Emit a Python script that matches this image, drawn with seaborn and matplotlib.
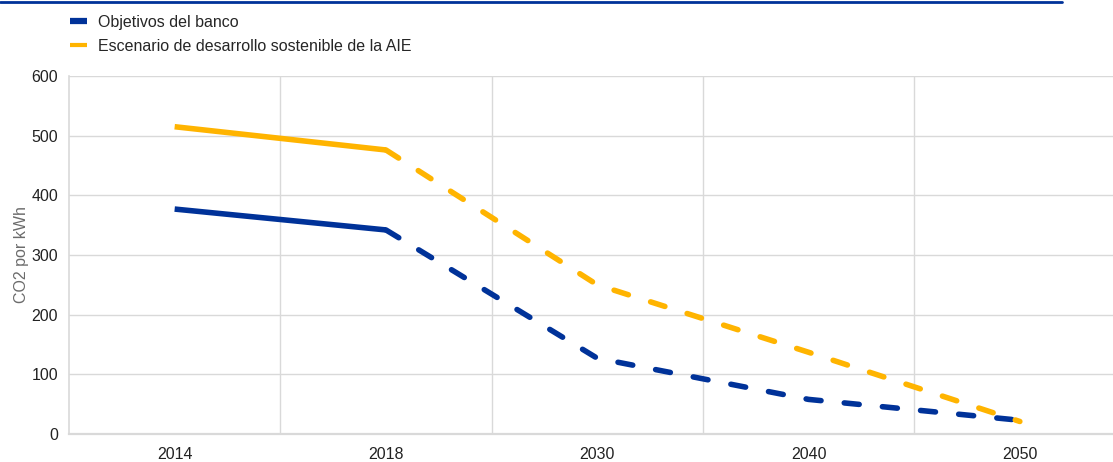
import matplotlib
matplotlib.use("Agg")
import matplotlib.pyplot as plt
from matplotlib.lines import Line2D
import seaborn as sns
import pandas as pd
import numpy as np

# ---- data ----
years = ["2014", "2018", "2030", "2040", "2050"]
bank_targets = [377, 342, 127, 58, 23]
iea_sds = [515, 476, 250, 137, 21]
series_names = ["Objetivos del banco", "Escenario de desarrollo sostenible de la AIE"]
y_ticks = [0, 100, 200, 300, 400, 500, 600]
y_label = "CO2 por kWh"

BLUE = "#003299"
YELLOW = "#FFB400"
GRID = "#d9d9d9"
FS = 11.5

sns.set_theme(style="white")
plt.rcParams["font.family"] = ["Liberation Sans", "DejaVu Sans"]

fig = plt.figure(figsize=(11.13, 4.62), dpi=100)
W, H = 1113, 462
left, right, top, bottom = 69, 1125.5, 76, 434
ax = fig.add_axes([left / W, 1 - bottom / H, (right - left) / W, (bottom - top) / H])

pos = np.arange(len(years))
df = pd.DataFrame({"pos": pos, "year": years, "bank": bank_targets, "iea": iea_sds})
hist = df.iloc[0:2]
proj = df.iloc[1:]

lw = 4.0
for col, color in (("bank", BLUE), ("iea", YELLOW)):
    sns.lineplot(data=hist, x="pos", y=col, ax=ax, color=color, lw=lw,
                 solid_capstyle="butt", solid_joinstyle="round", zorder=3)
    l = sns.lineplot(data=proj, x="pos", y=col, ax=ax, color=color, lw=lw,
                     zorder=3).lines[-1]
    l.set_dashes((2.7, 4.2))
    l.set_dash_capstyle("round")

ax.set_xlim(-0.5, len(years) - 0.5)
ax.set_ylim(0, 600)
ax.set_xticks(pos)
ax.set_xticklabels(years)
ax.set_xticks(pos[:-1] + 0.5, minor=True)
ax.set_yticks(y_ticks)
ax.grid(False)
ax.grid(True, which="minor", axis="x", color=GRID, lw=1)
ax.grid(True, which="major", axis="y", color=GRID, lw=1)
ax.set_axisbelow(True)
ax.tick_params(axis="both", which="both", length=0, labelsize=FS, colors="#222222")
ax.tick_params(axis="y", pad=8)
ax.tick_params(axis="x", pad=9.5)
ax.set_xlabel("")
ax.set_ylabel(y_label, fontsize=FS, color="#6b6b6b", labelpad=1.5)
for s in ("top", "right"):
    ax.spines[s].set_visible(False)
ax.spines["left"].set_color(GRID)
ax.spines["left"].set_linewidth(1.2)
ax.spines["bottom"].set_color(GRID)
ax.spines["bottom"].set_linewidth(1.6)

# top rule
fig.add_artist(Line2D([0, 1062 / W], [1 - 2 / H, 1 - 2 / H], color=BLUE, lw=2,
                      transform=fig.transFigure))

handles = [Line2D([], [], color=BLUE, lw=4.5, solid_capstyle="butt"),
           Line2D([], [], color=YELLOW, lw=3, solid_capstyle="butt")]
fig.legend(handles, series_names, loc="upper left",
           bbox_to_anchor=(70 / W, 1 - 14.5 / H), frameon=False, fontsize=FS,
           handlelength=1.06, handletextpad=0.7, labelspacing=0.6,
           borderaxespad=0, borderpad=0)

fig.savefig("out.png", dpi=100)
